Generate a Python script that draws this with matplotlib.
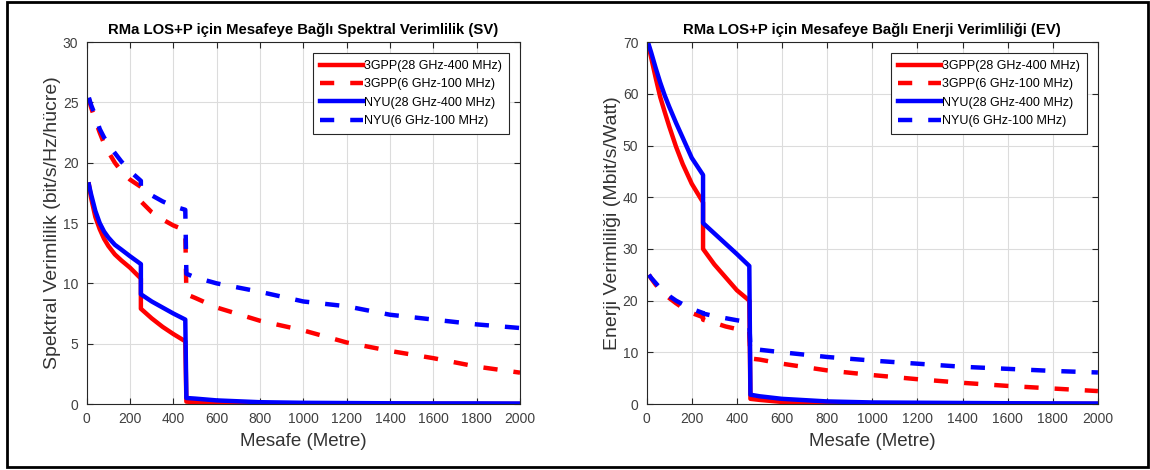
import matplotlib.pyplot as plt
from matplotlib.patches import Rectangle

plt.rcParams['font.family'] = ['Liberation Sans', 'DejaVu Sans']

# mesafe noktalari (m), sicramalar icin tekrarli
mesafe = [10, 20, 40, 60, 80, 100, 130, 160, 200, 250, 250, 300, 350, 400, 455, 460,
          500, 600, 800, 1000, 1200, 1400, 1600, 1800, 2000]

etiketler = ['3GPP(28 GHz-400 MHz)', '3GPP(6 GHz-100 MHz)',
             'NYU(28 GHz-400 MHz)', 'NYU(6 GHz-100 MHz)']

# Spektral verimlilik (bit/s/Hz/hucre)
sv_3gpp_28 = [18.2, 17.1, 15.5, 14.5, 13.7, 13.1, 12.4, 11.9, 11.3, 10.4,
              7.9, 7.1, 6.4, 5.8, 5.2,
              0.2, 0.15, 0.1, 0.06, 0.04, 0.03, 0.02, 0.02, 0.01, 0.01]
sv_3gpp_6 = [25.3, 24.6, 23.5, 22.5, 21.6, 20.9, 20.0, 19.3, 18.6, 18.0,
             16.8, 15.9, 15.3, 14.8, 14.4,
             9.1, 8.8, 8.0, 6.9, 6.1, 5.1, 4.4, 3.8, 3.1, 2.6]
sv_nyu_28 = [18.2, 17.4, 16.0, 15.0, 14.3, 13.8, 13.2, 12.8, 12.25, 11.6,
             9.1, 8.5, 8.0, 7.5, 7.0,
             0.5, 0.45, 0.3, 0.15, 0.1, 0.08, 0.06, 0.05, 0.05, 0.04]
sv_nyu_6 = [25.4, 24.8, 23.9, 22.8, 22.1, 21.5, 20.8, 20.1, 19.3, 18.5,
            18.0, 17.3, 16.8, 16.4, 16.1,
            10.8, 10.5, 10.0, 9.3, 8.5, 8.1, 7.4, 7.0, 6.6, 6.3]

# Enerji verimliligi (Mbit/s/Watt)
ev_3gpp_28 = [69, 67, 63.1, 59.4, 56.5, 53.7, 49.8, 46.4, 42.6, 39,
              30, 27, 24.5, 22, 20,
              1.0, 0.8, 0.4, 0.2, 0.12, 0.08, 0.06, 0.05, 0.04, 0.03]
ev_3gpp_6 = [25, 24.3, 23.1, 22.1, 21.2, 20.5, 19.5, 18.6, 17.6, 16.8,
             16.3, 15.7, 15.0, 14.5, 14.0,
             8.8, 8.6, 7.8, 6.5, 5.6, 4.8, 4.1, 3.5, 3.0, 2.5]
ev_nyu_28 = [69.4, 68, 65, 62.2, 59.7, 57.5, 54.4, 51.5, 47.6, 44.3,
             35, 33, 31, 29, 26.7,
             1.8, 1.5, 1.0, 0.5, 0.3, 0.25, 0.2, 0.15, 0.12, 0.1]
ev_nyu_6 = [25, 24.4, 23.4, 22.4, 21.6, 20.9, 20.0, 19.3, 18.4, 17.6,
            17.5, 17.0, 16.6, 16.2, 15.8,
            10.7, 10.5, 10.0, 9.1, 8.4, 7.8, 7.2, 6.8, 6.4, 6.1]

stiller = [('red', '-'), ('red', '--'), ('blue', '-'), ('blue', '--')]


def panel(ax, seriler, baslik, ylabel, ymax, ystep):
    for y, (renk, ls), lab in zip(seriler, stiller, etiketler):
        line, = ax.plot(mesafe, y, color=renk, lw=3.2, ls=ls, label=lab)
        if ls == '--':
            line.set_dashes((3.2, 3.6))
    ax.set_xlim(0, 2000)
    ax.set_ylim(0, ymax)
    ax.set_xticks(range(0, 2001, 200))
    ax.set_yticks(range(0, ymax + 1, ystep))
    ax.grid(True, color='#dcdcdc', lw=0.8)
    ax.tick_params(direction='in', length=4, top=True, right=True, pad=6,
                   labelsize=10, colors='#262626', labelcolor='#404040')
    for s in ax.spines.values():
        s.set_color('#262626')
        s.set_linewidth(0.8)
    ax.set_title(baslik, fontsize=10.7, fontweight='bold', pad=6)
    ax.set_xlabel('Mesafe (Metre)', fontsize=13.5, color='#333333', labelpad=5)
    ax.set_ylabel(ylabel, fontsize=14, color='#333333', labelpad=1)
    leg = ax.legend(loc='upper right', fontsize=9, handlelength=3.4,
                    handletextpad=0.1, fancybox=False, framealpha=1,
                    borderaxespad=0.9, labelspacing=0.5, borderpad=0.55)
    leg.get_frame().set_edgecolor('#262626')
    leg.get_frame().set_linewidth(0.8)


fig = plt.figure(figsize=(11.5, 4.7), dpi=100)
ax1 = fig.add_axes([0.0754, 0.1404, 0.3768, 0.770])
ax2 = fig.add_axes([0.5623, 0.1404, 0.3924, 0.770])

panel(ax1, [sv_3gpp_28, sv_3gpp_6, sv_nyu_28, sv_nyu_6],
      'RMa LOS+P için Mesafeye Bağlı Spektral Verimlilik (SV)',
      'Spektral Verimlilik (bit/s/Hz/hücre)', 30, 5)
panel(ax2, [ev_3gpp_28, ev_3gpp_6, ev_nyu_28, ev_nyu_6],
      'RMa LOS+P için Mesafeye Bağlı Enerji Verimliliği (EV)',
      'Enerji Verimliliği (Mbit/s/Watt)', 70, 10)

# dis cerceve
fig.patches.append(Rectangle((7 / 1150, 3 / 470), 1141 / 1150, 465 / 470,
                             transform=fig.transFigure, fill=False,
                             edgecolor='black', lw=2))

fig.savefig('out.png', dpi=100)
